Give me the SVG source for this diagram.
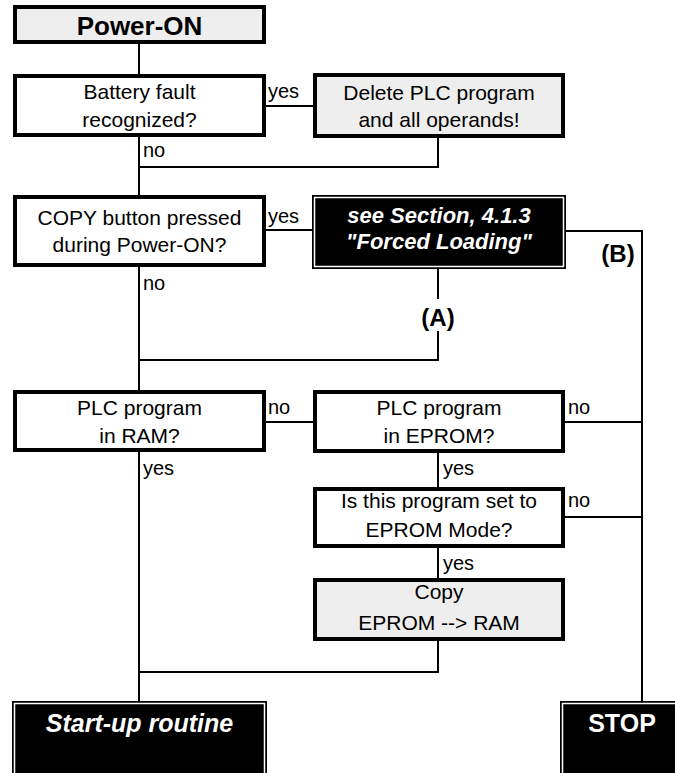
<svg xmlns="http://www.w3.org/2000/svg" width="675" height="773" viewBox="0 0 675 773">
  <style>
    .box { fill: #ffffff; stroke: #000000; stroke-width: 4; }
    .grey { fill: #eeeeee; stroke: #000000; stroke-width: 4; }
    .dark { fill: #000000; stroke: #000000; stroke-width: 1; }
    .inner { fill: none; stroke: #ffffff; stroke-width: 1.5; }
    .txt { font-family: "Liberation Sans", Arial, sans-serif; font-size: 21px; fill: #000000; text-anchor: middle; }
    .head { font-family: "Liberation Sans", Arial, sans-serif; font-size: 26px; font-weight: bold; fill: #000000; text-anchor: middle; }
    .wt { font-family: "Liberation Sans", Arial, sans-serif; font-weight: bold; fill: #ffffff; text-anchor: middle; }
    .lbl { font-family: "Liberation Sans", Arial, sans-serif; font-size: 20px; fill: #000000; }
    .mark { font-family: "Liberation Sans", Arial, sans-serif; font-size: 24px; font-weight: bold; fill: #000000; text-anchor: middle; }
    .wire { fill: none; stroke: #000000; stroke-width: 2; }
  </style>

  <!-- connectors -->
  <g id="connectors">
    <path class="wire" d="M139,44 V74"/>
    <path class="wire" d="M266,106 H313"/>
    <path class="wire" d="M139,137 V195"/>
    <path class="wire" d="M438,138 V167 H139"/>
    <path class="wire" d="M266,230 H312"/>
    <path class="wire" d="M566,231 H642 V701"/>
    <path class="wire" d="M139,267 V390"/>
    <path class="wire" d="M438,269 V299"/>
    <path class="wire" d="M438,331 V360 H139"/>
    <path class="wire" d="M266,422 H313"/>
    <path class="wire" d="M565,422 H642"/>
    <path class="wire" d="M438,453 V487"/>
    <path class="wire" d="M565,517 H642"/>
    <path class="wire" d="M438,548 V578"/>
    <path class="wire" d="M139,452 V701"/>
    <path class="wire" d="M438,641 V672 H139"/>

    <text class="lbl" x="268" y="98">yes</text>
    <text class="lbl" x="143" y="157">no</text>
    <text class="lbl" x="268" y="223">yes</text>
    <text class="lbl" x="143" y="290">no</text>
    <text class="mark" x="438" y="326">(A)</text>
    <text class="mark" x="618" y="262">(B)</text>
    <text class="lbl" x="268" y="414">no</text>
    <text class="lbl" x="568" y="414">no</text>
    <text class="lbl" x="143" y="475">yes</text>
    <text class="lbl" x="443" y="475">yes</text>
    <text class="lbl" x="568" y="507">no</text>
    <text class="lbl" x="443" y="570">yes</text>
  </g>

  <g id="power-on">
    <rect class="grey" x="15" y="7" width="249" height="35"/>
    <text class="head" x="139.5" y="35">Power-ON</text>
  </g>

  <g id="battery-fault">
    <rect class="box" x="15" y="76" width="249" height="59"/>
    <text class="txt" x="139.5" y="99">Battery fault</text>
    <text class="txt" x="139.5" y="127">recognized?</text>
  </g>

  <g id="delete-program">
    <rect class="grey" x="315" y="75" width="248" height="61"/>
    <text class="txt" x="439" y="100">Delete PLC program</text>
    <text class="txt" x="439" y="127">and all operands!</text>
  </g>

  <g id="copy-button">
    <rect class="box" x="15" y="197" width="249" height="68"/>
    <text class="txt" x="139.5" y="225">COPY button pressed</text>
    <text class="txt" x="139.5" y="252">during Power-ON?</text>
  </g>

  <g id="forced-loading">
    <rect class="dark" x="312.5" y="195.5" width="253" height="73"/>
    <rect class="inner" x="314.5" y="197.5" width="249" height="69"/>
    <text class="wt" x="439" y="223" font-size="22" font-style="italic">see Section, 4.1.3</text>
    <text class="wt" x="439" y="249" font-size="22" font-style="italic">"Forced Loading"</text>
  </g>

  <g id="program-in-ram">
    <rect class="box" x="15" y="392" width="249" height="58"/>
    <text class="txt" x="139.5" y="415">PLC program</text>
    <text class="txt" x="139.5" y="443">in RAM?</text>
  </g>

  <g id="program-in-eprom">
    <rect class="box" x="315" y="392" width="248" height="59"/>
    <text class="txt" x="439" y="415">PLC program</text>
    <text class="txt" x="439" y="443">in EPROM?</text>
  </g>

  <g id="eprom-mode">
    <rect class="box" x="315" y="489" width="248" height="57"/>
    <text class="txt" x="439" y="508">Is this program set to</text>
    <text class="txt" x="439" y="537">EPROM Mode?</text>
  </g>

  <g id="copy-eprom-ram">
    <rect class="grey" x="315" y="580" width="248" height="59"/>
    <text class="txt" x="439" y="599">Copy</text>
    <text class="txt" x="439" y="630">EPROM --&gt; RAM</text>
  </g>

  <g id="start-up">
    <rect class="dark" x="12.5" y="701.5" width="254" height="80"/>
    <rect class="inner" x="14.5" y="703.5" width="250" height="80"/>
    <text class="wt" x="139.5" y="732" font-size="25" font-style="italic">Start-up routine</text>
  </g>

  <g id="stop">
    <rect class="dark" x="560.5" y="701.5" width="130" height="80"/>
    <rect class="inner" x="562.5" y="703.5" width="130" height="80"/>
    <text class="wt" x="622" y="732" font-size="25">STOP</text>
  </g>
</svg>
